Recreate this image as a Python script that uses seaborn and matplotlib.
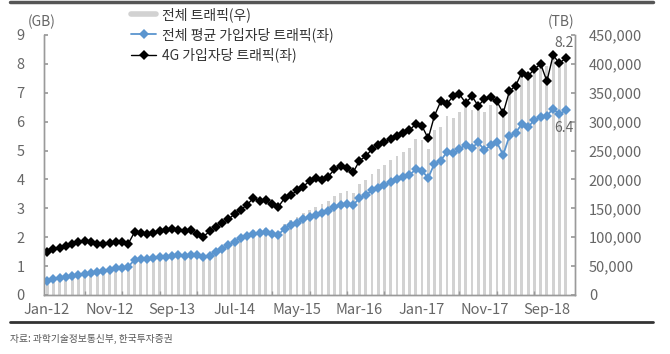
import matplotlib
matplotlib.use("Agg")
import matplotlib.pyplot as plt
from matplotlib.lines import Line2D
import seaborn as sns
import pandas as pd
import numpy as np

sns.set_theme(style="white")
plt.rcParams['font.family'] = ['Noto Sans CJK KR', 'DejaVu Sans']
plt.rcParams['axes.unicode_minus'] = False

# ---- data -------------------------------------------------------------
months = pd.date_range("2012-01-01", periods=84, freq="MS").strftime("%b-%y").tolist()

total_tb = [26000, 28000, 30000, 32000, 34000, 36000, 38000, 40000, 42000, 44000,
            46000, 48000, 50000, 50000, 63000, 65000, 65000, 67000, 68000, 70000,
            71000, 72000, 72000, 73000, 73000, 68000, 72000, 78000, 84000, 90000,
            97000, 104000, 108000, 112000, 114000, 116000, 113000, 110000, 123000, 130000,
            135000, 142000, 147000, 153000, 158000, 163000, 172000, 176000, 180000, 176000,
            192000, 199000, 210000, 218000, 225000, 233000, 241000, 248000, 255000, 270000,
            268000, 252000, 285000, 291000, 310000, 307000, 317000, 327000, 321000, 333000,
            317000, 328000, 335000, 308000, 350000, 358000, 377000, 372000, 386000, 393000,
            396000, 410000, 398000, 408000]

avg_gb = [0.50, 0.55, 0.58, 0.62, 0.66, 0.70, 0.72, 0.76, 0.80, 0.84,
          0.88, 0.92, 0.95, 0.98, 1.22, 1.25, 1.24, 1.28, 1.30, 1.33,
          1.35, 1.37, 1.36, 1.39, 1.38, 1.30, 1.36, 1.48, 1.60, 1.72,
          1.85, 1.98, 2.05, 2.12, 2.15, 2.18, 2.12, 2.08, 2.30, 2.42,
          2.50, 2.62, 2.70, 2.78, 2.85, 2.92, 3.05, 3.10, 3.15, 3.12,
          3.35, 3.45, 3.62, 3.72, 3.80, 3.90, 4.00, 4.08, 4.15, 4.35,
          4.30, 4.05, 4.55, 4.65, 4.95, 4.90, 5.05, 5.20, 5.10, 5.28,
          5.02, 5.18, 5.28, 4.85, 5.50, 5.62, 5.92, 5.82, 6.05, 6.15,
          6.20, 6.45, 6.25, 6.40]

lte_gb = [1.50, 1.58, 1.62, 1.70, 1.78, 1.85, 1.88, 1.85, 1.78, 1.75,
          1.80, 1.82, 1.85, 1.78, 2.18, 2.15, 2.10, 2.15, 2.22, 2.25,
          2.30, 2.25, 2.20, 2.25, 2.12, 2.02, 2.20, 2.35, 2.50, 2.62,
          2.80, 2.95, 3.12, 3.35, 3.25, 3.28, 3.15, 3.05, 3.35, 3.45,
          3.62, 3.75, 3.95, 4.05, 3.98, 4.10, 4.35, 4.45, 4.38, 4.25,
          4.65, 4.80, 5.05, 5.20, 5.30, 5.40, 5.50, 5.62, 5.70, 5.92,
          5.85, 5.42, 6.20, 6.70, 6.62, 6.88, 6.95, 6.65, 6.88, 6.55,
          6.78, 6.85, 6.70, 6.30, 7.05, 7.25, 7.70, 7.58, 7.82, 8.00,
          7.40, 8.30, 8.02, 8.20]

tick_every = 10
left_ticks = [0, 1, 2, 3, 4, 5, 6, 7, 8, 9]
right_ticks = [0, 50000, 100000, 150000, 200000, 250000, 300000, 350000, 400000, 450000]

labels = ["전체 트래픽(우)", "전체 평균 가입자당 트래픽(좌)", "4G 가입자당 트래픽(좌)"]

df = pd.DataFrame({"idx": np.arange(len(months)), "month": months,
                   "total": total_tb, "avg": avg_gb, "lte": lte_gb})

# ---- figure -----------------------------------------------------------
W, H = 670, 354
fig = plt.figure(figsize=(W / 100, H / 100), dpi=100)
ax1 = fig.add_axes([44 / W, 1 - 295 / H, (575 - 44) / W, (295 - 35) / H])
ax2 = ax1.twinx()

GRAY_TXT = "#666666"
SPINE = "#9a9a9a"
BLUE = "#5b95cf"
BAR = "#d2d2d2"

sns.barplot(data=df, x="idx", y="total", ax=ax2, color=BAR, width=0.45,
            saturation=1, native_scale=True, edgecolor="none")
sns.lineplot(data=df, x="idx", y="avg", ax=ax1, color=BLUE, marker="D",
             markersize=5.5, markeredgewidth=0, linewidth=1.3)
sns.lineplot(data=df, x="idx", y="lte", ax=ax1, color="black", marker="D",
             markersize=5.5, markeredgewidth=0, linewidth=1.0)

ax1.set_zorder(ax2.get_zorder() + 1)
ax1.patch.set_visible(False)

for ax in (ax1, ax2):
    ax.set_xlim(-0.5, 84.5)
    ax.set_xlabel("")
    ax.set_ylabel("")
    ax.spines["top"].set_visible(False)
    for s in ("left", "right", "bottom"):
        ax.spines[s].set_color(SPINE)
        ax.spines[s].set_linewidth(1.0)

ax1.set_ylim(0, 9)
ax2.set_ylim(0, 450000)
ax1.set_yticks(left_ticks)
ax1.set_yticklabels([str(v) for v in left_ticks])
ax2.set_yticks(right_ticks)
ax2.set_yticklabels([f"{v:,}" for v in right_ticks])

pos = list(range(0, len(months), tick_every))
ax1.set_xticks(pos)
ax1.set_xticklabels([months[p] for p in pos])
ax1.set_xticks(list(range(0, len(months), 6)), minor=True)

ax1.tick_params(axis="y", direction="in", length=3, color=SPINE, labelsize=10.5,
                labelcolor=GRAY_TXT, pad=14, left=True)
ax2.tick_params(axis="y", direction="in", length=3, color=SPINE, labelsize=10.5,
                labelcolor=GRAY_TXT, pad=10, right=True)
ax1.tick_params(axis="x", which="major", length=0, labelsize=10.5,
                labelcolor=GRAY_TXT, pad=6)
ax1.tick_params(axis="x", which="minor", direction="in", length=3, color=SPINE, bottom=True)
ax2.tick_params(axis="x", bottom=False, labelbottom=False)
ax1.grid(False)
ax2.grid(False)

# unit labels
fig.text(42 / W, 1 - 22 / H, "(GB)", ha="center", va="center", fontsize=10, color=GRAY_TXT)
fig.text(561 / W, 1 - 22 / H, "(TB)", ha="center", va="center", fontsize=10, color=GRAY_TXT)

# end-value annotations
ax1.annotate(f"{lte_gb[-1]:.1f}", xy=(len(months) - 1, lte_gb[-1]), xytext=(-1, 6),
             textcoords="offset points", ha="center", va="bottom", fontsize=10, color=GRAY_TXT)
ax1.annotate(f"{avg_gb[-1]:.1f}", xy=(len(months) - 1, avg_gb[-1]), xytext=(-1, -8),
             textcoords="offset points", ha="center", va="top", fontsize=10, color=GRAY_TXT)

# legend
handles = [Line2D([], [], color=BAR, lw=4),
           Line2D([], [], color=BLUE, lw=1.3, marker="D", markersize=5.5, markeredgewidth=0),
           Line2D([], [], color="black", lw=1.0, marker="D", markersize=5.5, markeredgewidth=0)]
fig.legend(handles, labels, loc="upper left", bbox_to_anchor=(131 / W, 1 - 7 / H),
           frameon=False, fontsize=10, handlelength=1.8, handletextpad=0.4,
           labelspacing=0.4, borderpad=0, borderaxespad=0, labelcolor="#333333")

# frame rules and source
fig.add_artist(Line2D([10 / W, 653 / W], [1 - 1.5 / H, 1 - 1.5 / H], color="#555555", lw=2.5))
fig.add_artist(Line2D([10 / W, 653 / W], [1 - 322 / H, 1 - 322 / H], color="#333333", lw=2))
fig.text(10 / W, 1 - 339 / H, "자료: 과학기술정보통신부, 한국투자증권", ha="left", va="center",
         fontsize=7, color="#555555")

fig.savefig("out.png", dpi=100)
